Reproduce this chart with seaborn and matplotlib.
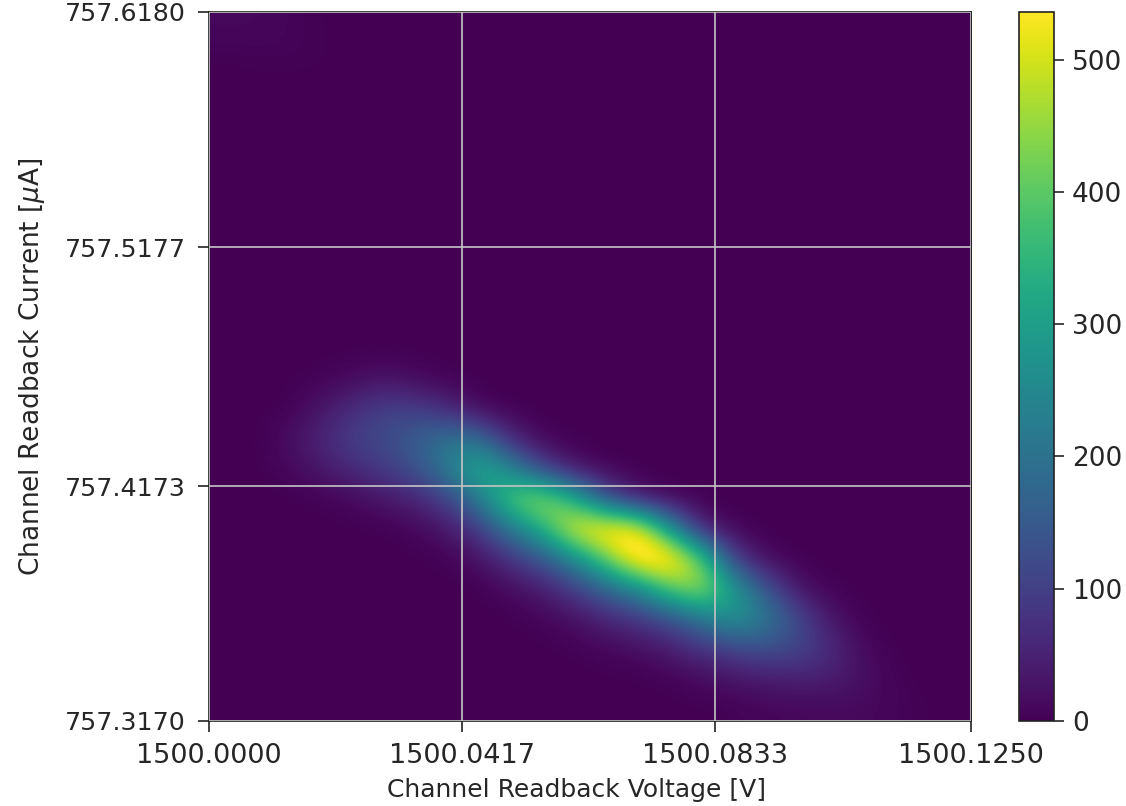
import numpy as np
import pandas as pd
import seaborn as sns
import matplotlib
matplotlib.use("Agg")
import matplotlib.pyplot as plt

x_tick_labels = ["1500.0000", "1500.0417", "1500.0833", "1500.1250"]
y_tick_labels = ["757.6180", "757.5177", "757.4173", "757.3170"]
x_label = "Channel Readback Voltage [V]"
y_label = r"Channel Readback Current [$\mu$A]"
cbar_ticks = [0, 100, 200, 300, 400, 500]
count_max = 536

empty = [0] * 24
counts = np.array([
    [12, 12, 6, 2, 0, 0, 0, 0, 0, 0, 0, 0, 0, 0, 0, 0, 0, 0, 0, 0, 0, 0, 0, 0],
    [2, 4, 5, 3, 0, 0, 0, 0, 0, 0, 0, 0, 0, 0, 0, 0, 0, 0, 0, 0, 0, 0, 0, 0],
    empty, empty, empty, empty, empty, empty, empty, empty, empty, empty,
    [0, 0, 0, 5, 15, 30, 15, 3, 0, 0, 0, 0, 0, 0, 0, 0, 0, 0, 0, 0, 0, 0, 0, 0],
    [0, 0, 3, 30, 70, 105, 100, 70, 10, 0, 0, 0, 0, 0, 0, 0, 0, 0, 0, 0, 0, 0, 0, 0],
    [0, 0, 20, 55, 100, 120, 160, 210, 200, 60, 5, 0, 0, 0, 0, 0, 0, 0, 0, 0, 0, 0, 0, 0],
    [0, 0, 10, 30, 60, 90, 130, 220, 340, 250, 110, 25, 2, 0, 0, 0, 0, 0, 0, 0, 0, 0, 0, 0],
    [0, 0, 0, 3, 10, 30, 50, 100, 220, 410, 470, 340, 130, 25, 3, 0, 0, 0, 0, 0, 0, 0, 0, 0],
    [0, 0, 0, 0, 0, 0, 8, 30, 90, 210, 340, 540, 580, 560, 270, 40, 3, 0, 0, 0, 0, 0, 0, 0],
    [0, 0, 0, 0, 0, 0, 0, 3, 20, 80, 140, 250, 420, 600, 600, 400, 90, 10, 0, 0, 0, 0, 0, 0],
    [0, 0, 0, 0, 0, 0, 0, 0, 0, 15, 40, 95, 175, 250, 410, 480, 290, 140, 25, 2, 0, 0, 0, 0],
    [0, 0, 0, 0, 0, 0, 0, 0, 0, 0, 8, 20, 55, 85, 130, 210, 290, 225, 120, 30, 2, 0, 0, 0],
    [0, 0, 0, 0, 0, 0, 0, 0, 0, 0, 0, 3, 10, 20, 40, 80, 110, 135, 115, 70, 15, 0, 0, 0],
    [0, 0, 0, 0, 0, 0, 0, 0, 0, 0, 0, 0, 0, 0, 5, 15, 30, 40, 50, 45, 25, 5, 0, 0],
    [0, 0, 0, 0, 0, 0, 0, 0, 0, 0, 0, 0, 0, 0, 0, 0, 3, 8, 10, 12, 12, 8, 2, 0],
], dtype=float)
frame = pd.DataFrame(counts)

sns.set_style("ticks")
W, H = 1126, 806
fig = plt.figure(figsize=(W / 100, H / 100), dpi=100)
ax = fig.add_axes([209 / W, 1 - 721 / H, 762 / W, 709 / H])
cax = fig.add_axes([1019 / W, 1 - 721 / H, 35 / W, 709 / H])

sns.heatmap(frame, ax=ax, cbar_ax=cax, cmap="viridis", vmin=0, vmax=count_max,
            square=False, xticklabels=False, yticklabels=False)
ax.collections[0].set_visible(False)
ax.imshow(frame.values, cmap="viridis", vmin=0, vmax=count_max, aspect="auto",
          interpolation="bicubic", extent=(0, 24, 24, 0), zorder=0)
ax.set_xlim(0, 24)
ax.set_ylim(24, 0)

ink = "#262626"
ax.set_xticks([0, 7.96, 15.94, 24])
ax.set_xticklabels(x_tick_labels, fontsize=19.5, color=ink, rotation=0)
ax.set_yticks([0, 7.96, 16.05, 24])
ax.set_yticklabels(y_tick_labels, fontsize=18.3, color=ink, rotation=0)
ax.tick_params(axis="y", length=8, width=1.2, color="#222222", pad=8.5, left=True)
ax.tick_params(axis="x", length=8, width=1.2, color="#222222", pad=8, bottom=True)
ax.set_xlabel(x_label, fontsize=18, color=ink, x=0.4825, labelpad=6)
ax.set_ylabel(y_label, fontsize=19, color=ink, labelpad=13)
ax.grid(True, color="#c4c4c4", linewidth=1.2)
ax.set_axisbelow(False)
for s in ax.spines.values():
    s.set_visible(True)
    s.set_linewidth(1.2)
    s.set_color("#222222")

cb = ax.collections[0].colorbar
cb.set_ticks(cbar_ticks)
cb.ax.tick_params(labelsize=19, length=7, width=1.2, labelcolor=ink, right=True, pad=6)
cb.outline.set_visible(True)
cb.outline.set_linewidth(1.2)
cb.outline.set_edgecolor("#222222")

fig.savefig("out.png", dpi=100)
